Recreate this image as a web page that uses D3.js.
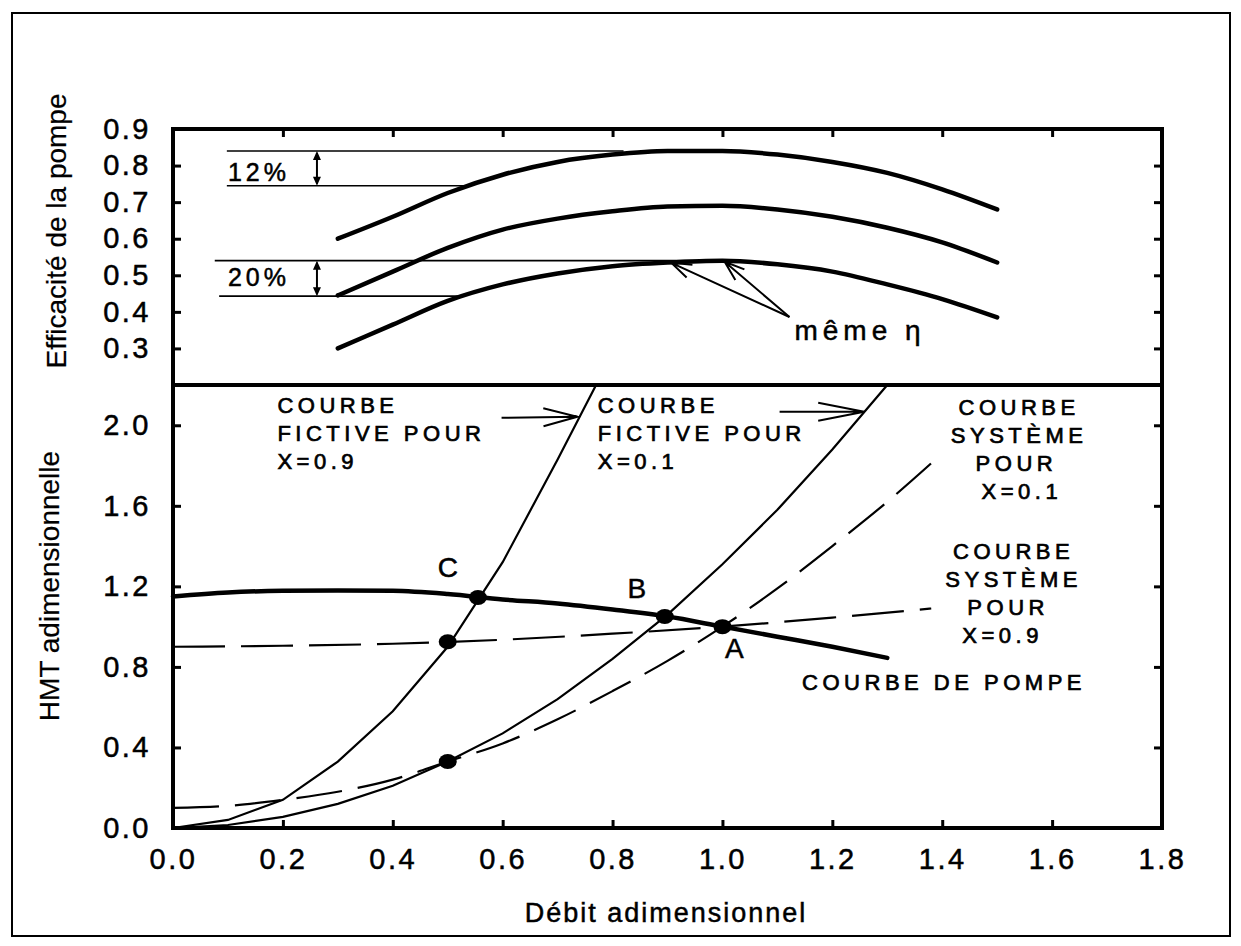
<!DOCTYPE html>
<html>
<head>
<meta charset="utf-8">
<title>Courbes de pompe</title>
<script src="https://cdnjs.cloudflare.com/ajax/libs/d3/7.8.5/d3.min.js"></script>
<style>
  body { margin: 0; background: #fff; }
  svg text { font-family: "Liberation Sans", Arial, Helvetica, sans-serif; fill: #000; stroke: #000; stroke-width: 0.5px; }
  .axis path.domain { display: none; }
  .axis line { stroke: #000; stroke-width: 3; }
  .axis text { font-size: 29px; letter-spacing: 2.5px; }
</style>
</head>
<body>
<svg id="chart" width="1241" height="946"></svg>
<script>
// ticks
const flowTicks = [0, 0.2, 0.4, 0.6, 0.8, 1.0, 1.2, 1.4, 1.6, 1.8];
const effTicks = [0.3, 0.4, 0.5, 0.6, 0.7, 0.8, 0.9];
const hmtTicks = [0, 0.4, 0.8, 1.2, 1.6, 2.0];

// efficacité de la pompe (3 courbes)
const effFlow = [0.3, 0.4, 0.5, 0.6, 0.7, 0.8, 0.9, 1.0, 1.1, 1.2, 1.3, 1.4, 1.5];
const effHigh = [0.60, 0.66, 0.725, 0.775, 0.81, 0.83, 0.84, 0.84, 0.83, 0.81, 0.78, 0.735, 0.68];
const effMid  = [0.445, 0.51, 0.575, 0.625, 0.655, 0.675, 0.688, 0.69, 0.68, 0.66, 0.63, 0.59, 0.535];
const effLow  = [0.30, 0.365, 0.43, 0.475, 0.505, 0.525, 0.535, 0.54, 0.53, 0.51, 0.475, 0.435, 0.385];

// lignes de repère 12% / 20%
const refY  = [0.84, 0.745, 0.54, 0.443];
const refX0 = [0.098, 0.098, 0.076, 0.084];
const refX1 = [0.82, 0.535, 1.0, 0.52];

// HMT
const pumpFlow = [0, 0.1, 0.2, 0.3, 0.4, 0.5, 0.6, 0.7, 0.8, 0.9, 1.0, 1.1, 1.2, 1.3];
const pumpHmt  = [1.15, 1.17, 1.178, 1.18, 1.178, 1.162, 1.135, 1.115, 1.085, 1.05, 1.0, 0.95, 0.9, 0.845];

const fict09Flow = [0, 0.1, 0.2, 0.3, 0.4, 0.5, 0.6, 0.7, 0.77];
const fict09Hmt  = [0, 0.04, 0.14, 0.33, 0.58, 0.90, 1.32, 1.83, 2.2];

const fict01Flow = [0, 0.1, 0.2, 0.3, 0.4, 0.5, 0.6, 0.7, 0.8, 0.9, 1.0, 1.1, 1.2, 1.3];
const fict01Hmt  = [0, 0.015, 0.055, 0.12, 0.21, 0.33, 0.47, 0.64, 0.84, 1.06, 1.31, 1.58, 1.88, 2.2];

const sys01Flow = [0, 0.1, 0.2, 0.3, 0.4, 0.5, 0.6, 0.7, 0.8, 0.9, 1.0, 1.1, 1.2, 1.3, 1.4];
const sys01Hmt  = [0.10, 0.11, 0.14, 0.18, 0.24, 0.33, 0.42, 0.54, 0.68, 0.83, 1.00, 1.19, 1.40, 1.62, 1.86];

const sys09Flow = [0, 0.2, 0.4, 0.6, 0.8, 1.0, 1.2, 1.38];
const sys09Hmt  = [0.90, 0.905, 0.915, 0.935, 0.965, 1.0, 1.045, 1.09];

// points de fonctionnement
const opFlow  = [1.0, 0.895, 0.555, 0.5, 0.5];
const opHmt   = [1.0, 1.05, 1.145, 0.925, 0.33];
const opLabel = ["A", "B", "C", "", ""];
const opDx = [12, -28, -30, 0, 0], opDy = [21, -29, -31, 0, 0];

const svg = d3.select("#chart");
const zip = (xs, ys) => xs.map((v, i) => [v, ys[i]]);

const L = 173, R = 1162, T = 129, M = 385, B = 828;
const x = d3.scaleLinear().domain([0, 1.8]).range([L, R]);
const yEff = d3.scaleLinear().domain([0.2, 0.9]).range([M, T]);
const yHmt = d3.scaleLinear().domain([0, 2.2]).range([B, M]);

// cadre extérieur
svg.append("rect").attr("x", 12).attr("y", 13).attr("width", 1218).attr("height", 923)
  .attr("fill", "none").attr("stroke", "#000").attr("stroke-width", 2);

// axes
const fmt = d3.format(".1f");
svg.append("g").attr("class", "axis").attr("transform", `translate(${L},0)`)
  .call(d3.axisLeft(yEff).tickValues(effTicks).tickSize(-8).tickPadding(22).tickFormat(fmt));
svg.append("g").attr("class", "axis").attr("transform", `translate(${R},0)`)
  .call(d3.axisRight(yEff).tickValues(effTicks.slice(0, -1)).tickSize(-8).tickFormat(""));
svg.append("g").attr("class", "axis").attr("transform", `translate(0,${T})`)
  .call(d3.axisTop(x).tickValues(flowTicks.slice(1, -1)).tickSize(-8).tickFormat(""));
svg.append("g").attr("class", "axis").attr("transform", `translate(${L},0)`)
  .call(d3.axisLeft(yHmt).tickValues(hmtTicks).tickSize(-8).tickPadding(22).tickFormat(fmt));
svg.append("g").attr("class", "axis").attr("transform", `translate(${R},0)`)
  .call(d3.axisRight(yHmt).tickValues(hmtTicks.slice(1)).tickSize(-8).tickFormat(""));
svg.append("g").attr("class", "axis").attr("transform", `translate(0,${B})`)
  .call(d3.axisBottom(x).tickValues(flowTicks).tickSize(-8).tickPadding(20).tickFormat(fmt));

// cadres des deux panneaux
svg.append("rect").attr("x", L).attr("y", T).attr("width", R - L).attr("height", M - T)
  .attr("fill", "none").attr("stroke", "#000").attr("stroke-width", 4);
svg.append("rect").attr("x", L).attr("y", M).attr("width", R - L).attr("height", B - M)
  .attr("fill", "none").attr("stroke", "#000").attr("stroke-width", 4);

// titres des axes
svg.append("text").attr("transform", "translate(66,231) rotate(-90)")
  .attr("text-anchor", "middle").style("font-size", "28px").style("stroke-width", "0.2px").text("Efficacité de la pompe");
svg.append("text").attr("transform", "translate(59,586) rotate(-90)")
  .attr("text-anchor", "middle").style("font-size", "28px").style("stroke-width", "0.2px").text("HMT adimensionnelle");
svg.append("text").attr("x", 666).attr("y", 922).attr("text-anchor", "middle")
  .style("font-size", "27px").style("letter-spacing", "2px").text("Débit adimensionnel");

// panneau haut
const effLine = d3.line().x(d => x(d[0])).y(d => yEff(d[1])).curve(d3.curveMonotoneX);
svg.selectAll(".ref").data(refY).join("line").attr("class", "ref")
  .attr("x1", (d, i) => x(refX0[i])).attr("x2", (d, i) => x(refX1[i]))
  .attr("y1", d => yEff(d)).attr("y2", d => yEff(d))
  .attr("stroke", "#000").attr("stroke-width", 1.6);
[effHigh, effMid, effLow].forEach(s => {
  svg.append("path").datum(zip(effFlow, s)).attr("d", effLine)
    .attr("fill", "none").attr("stroke", "#000").attr("stroke-width", 4.5).attr("stroke-linecap", "round");
});

function dimArrow(xv, ya, yb) {
  const px = x(xv), p1 = yEff(ya), p2 = yEff(yb);
  svg.append("line").attr("x1", px).attr("x2", px).attr("y1", p1 + 2).attr("y2", p2 - 2)
    .attr("stroke", "#000").attr("stroke-width", 2);
  svg.append("path").attr("d", `M${px},${p1}l-4,9h8z M${px},${p2}l-4,-9h8z`).attr("fill", "#000");
}
dimArrow(0.262, 0.84, 0.745);
dimArrow(0.262, 0.54, 0.443);

svg.append("text").attr("x", x(0.1)).attr("y", yEff(0.758))
  .style("font-size", "25px").style("letter-spacing", "4px").text("12%");
svg.append("text").attr("x", x(0.1)).attr("y", yEff(0.471))
  .style("font-size", "25px").style("letter-spacing", "4px").text("20%");

function openArrow(x1, y1, x2, y2, len, w) {
  const a = Math.atan2(y2 - y1, x2 - x1);
  const b1 = [x2 - len * Math.cos(a) + w * Math.sin(a), y2 - len * Math.sin(a) - w * Math.cos(a)];
  const b2 = [x2 - len * Math.cos(a) - w * Math.sin(a), y2 - len * Math.sin(a) + w * Math.cos(a)];
  svg.append("path").attr("d", `M${x1},${y1}L${x2},${y2}M${b1}L${x2},${y2}L${b2}`)
    .attr("fill", "none").attr("stroke", "#000").attr("stroke-width", 2);
}
openArrow(x(1.122), yEff(0.386), x(0.907), yEff(0.534), 20, 7);
openArrow(x(1.122), yEff(0.386), x(1.004), yEff(0.537), 20, 7);
svg.append("text").attr("x", x(1.131)).attr("y", yEff(0.323))
  .style("font-size", "28px").style("letter-spacing", "5px").text("même η");

// panneau bas
const hLine = d3.line().x(d => x(d[0])).y(d => yHmt(d[1]));
svg.append("path").datum(zip(sys01Flow, sys01Hmt)).attr("d", hLine.curve(d3.curveMonotoneX))
  .attr("fill", "none").attr("stroke", "#000").attr("stroke-width", 2.2).attr("stroke-dasharray", "46,16");
svg.append("path").datum(zip(sys09Flow, sys09Hmt)).attr("d", hLine.curve(d3.curveMonotoneX))
  .attr("fill", "none").attr("stroke", "#000").attr("stroke-width", 2.2).attr("stroke-dasharray", "52,16");
[[fict09Flow, fict09Hmt], [fict01Flow, fict01Hmt]].forEach(([f, h]) => {
  svg.append("path").datum(zip(f, h)).attr("d", hLine.curve(d3.curveLinear))
    .attr("fill", "none").attr("stroke", "#000").attr("stroke-width", 2.2);
});
svg.append("path").datum(zip(pumpFlow, pumpHmt)).attr("d", hLine.curve(d3.curveMonotoneX))
  .attr("fill", "none").attr("stroke", "#000").attr("stroke-width", 4.5).attr("stroke-linecap", "round");

svg.selectAll(".op").data(opFlow).join("ellipse").attr("class", "op")
  .attr("cx", d => x(d)).attr("cy", (d, i) => yHmt(opHmt[i])).attr("rx", 9).attr("ry", 7.5).attr("fill", "#000");
svg.selectAll(".opl").data(opFlow).join("text").attr("class", "opl")
  .attr("x", (d, i) => x(d) + opDx[i]).attr("y", (d, i) => yHmt(opHmt[i]) + opDy[i])
  .attr("text-anchor", "middle").attr("dy", "0.36em").style("font-size", "28px").text((d, i) => opLabel[i]);

openArrow(x(0.598), yHmt(2.037), x(0.736), yHmt(2.042), 34, 9);
openArrow(x(1.104), yHmt(2.067), x(1.258), yHmt(2.067), 46, 9);

function block(xv, yv, lines, anchor, xs) {
  const t = svg.append("text").attr("y", yHmt(yv)).attr("text-anchor", anchor)
    .style("font-size", "22px").style("letter-spacing", "4.5px").style("stroke-width", "0.7px");
  lines.forEach((s, i) => t.append("tspan").attr("x", x(xs ? xs[i] : xv)).attr("dy", i ? 28 : 0).text(s));
}
block(0.19, 2.06, ["COURBE", "FICTIVE POUR", "X=0.9"], "start");
block(0.773, 2.06, ["COURBE", "FICTIVE POUR", "X=0.1"], "start");
block(0, 2.05, ["COURBE", "SYSTÈME", "POUR", "X=0.1"], "middle", [1.54, 1.54, 1.535, 1.545]);
block(0, 1.336, ["COURBE", "SYSTÈME", "POUR", "X=0.9"], "middle", [1.53, 1.53, 1.52, 1.51]);
block(1.145, 0.686, ["COURBE DE POMPE"], "start");
</script>
</body>
</html>
